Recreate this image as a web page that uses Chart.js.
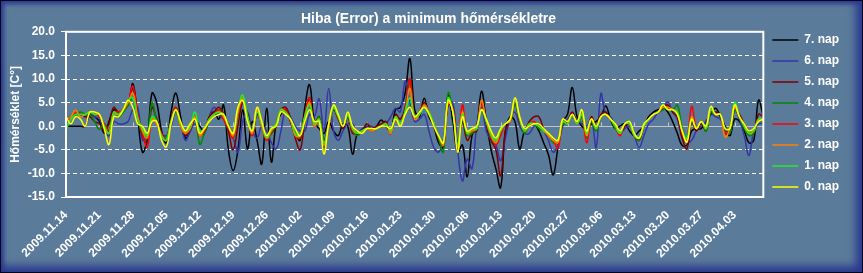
<!DOCTYPE html>
<html>
<head>
<meta charset="utf-8">
<script src="https://cdn.jsdelivr.net/npm/chart.js@4.4.0/dist/chart.umd.min.js"></script>
<style>
html, body { margin: 0; padding: 0; background: #000; }
#wrap {
  position: relative; width: 863px; height: 273px; box-sizing: border-box;
  background: #5b7b9b; border: 1px solid #05051a;
  box-shadow: inset 3px 3px 4px #2a3890, inset -8px -8px 8px -2px #2a3890;
}
#chart { position: absolute; left: -1px; top: -1px; }
</style>
</head>
<body>
<div id="wrap"><canvas id="chart" width="863" height="273"></canvas></div>
<script>
// tick labels, one per week
var tickLabels = ['2009.11.14', '2009.11.21', '2009.11.28', '2009.12.05', '2009.12.12', '2009.12.19', '2009.12.26',
  '2010.01.02', '2010.01.09', '2010.01.16', '2010.01.23', '2010.01.30', '2010.02.06', '2010.02.13',
  '2010.02.20', '2010.02.27', '2010.03.06', '2010.03.13', '2010.03.20', '2010.03.27', '2010.04.03'];

var seriesNames = ['7. nap', '6. nap', '5. nap', '4. nap', '3. nap', '2. nap', '1. nap', '0. nap'];

// daily error values, 2009.11.14 .. 2010.04.09
var nap7 = [0, 0, 0, 0, 0, 2.5, 2, 1, -1.5, 1,
  3.5, 2.5, 3.5, 4.5, 9, 2, -5.5, -3, 7, 5,
  -1, -3.5, 3, 7, 2, -2.5, -1, 1.5, 0, -1,
  2, 3, 1.5, 4.5, -5, -9.4, -5, 3.5, -4.8, 1,
  -3, -8, 3.8, -7.6, 0.5, 2.5, 3.5, 1, -1.5, -3,
  4, 8.8, 1, -0.5, -1.5, 1, -1, -2, 0.5, 0,
  -5.9, -1.5, -1, 0, -0.5, 0, 1.3, 0, -1, 3.5,
  4, 7, 14.3, 3.5, 2, 5.9, 2, 0, -3.5, -4.5,
  6.5, 1, -5.5, -4, -10.7, -2, 0, 7.4, 1, -5,
  -9, -13, -1, 2, 1, -4.8, -1, 0, 0.5, -1,
  -3.5, -6, -10.3, -4.5, 1, 2.5, 8.2, 2, 0, -0.5,
  0.5, 1, 2, 4.3, 1.5, -0.5, 0, 0.5, -1, -2,
  -1, 0, 2, 3, 3.5, 4, 3, 1, -1.5, -4.1,
  -4, -1, -0.5, -0.5, 1, 2.5, 3.8, 2, 0, -2,
  1.5, 1, -1, -3.5, -3, 5.5, 2];

var nap6 = [1, 2, 2.5, 2.5, 2, 2.5, 2, 1.5, -1, -2,
  1, 0.5, 0.5, 1, 3.5, 4, -3, -2, 1, 1.5,
  -1.5, -2, 0, 3.5, 1, -3, -1, 0.5, -1, -1.5,
  2, 4, 2.5, 1.5, -1, -2.5, -5.5, 1, 3, -1,
  -2.5, 0, -1, -3.5, -4.8, -1, 3.5, 2, 0, -1,
  -1, 2.5, 2, 5.8, -1, 8, -1, -3, -1, 0.5,
  0.5, -1.5, -0.5, 0, 0, -0.5, 0, 0.5, 2, 3.8,
  3, 9.5, 5, 1, 1.5, 2.5, -1, -4.5, -5.5, -3,
  4.5, 5, -5, -11.6, -7, -9, 0, 4, -1, -3,
  -4, -7.3, -2.5, 1.5, 3, 0, -1.5, -1.5, 0, 0.5,
  -1, -3, -5.5, -4, 0, 1.5, 2.5, 1.5, 0.5, 0,
  1.5, -4.5, 6.9, 2.5, 2, 0, -1.5, -0.5, 0, -2,
  -4.5, -2, 0.5, 1.5, 3, 3.5, 5.2, 3, 1.5, -2.5,
  -3.5, -3, -1, 0, 1, 2.5, 2, 1.5, -0.5, -1.5,
  3.5, 1.5, -2, -6.2, -1, 0.5, 0.5];

var nap5 = [1.5, 2, 2.5, 2.5, 2, 2, 1, 0.5, -1, 0.5,
  4, 3, 3.5, 5, 8, 2.5, -2, -3.5, 4, 1.5,
  -1.5, -3, 1.5, 4, 0.5, -2, -0.5, 1.5, -1.5, -1,
  2, 3, 4, 2.5, -1, -5, 0, 5, 2.5, -1,
  2.5, 0.5, -2.5, -1.5, 0, 3.5, 4, 1.5, -2.5, -5,
  1, 6, 0.5, 2, -3, 0.5, 3.5, 1.5, -0.5, 2,
  -1.5, -1.5, -1, 0.5, -0.5, 0, 0.5, 1, -1.5, 2.5,
  1.5, 4, 10, 2, 3, 5, 3, 0, -2.5, -4,
  4.5, 4, -4, 1, -3, -1.5, -1, 5, 0.5, -3,
  -5, -10.5, -1, 1.5, 5, 1, -1, 1, 2, 2,
  -0.5, -2, -3, -3.5, 1, 1, 3, 1, 2, -2,
  2, 0, 2.5, 3, 1.5, 0.5, -1.5, 0, 0.5, -2,
  -3, 0, 1.5, 2.5, 3, 4, 4.5, 3, 2, -2.5,
  -4.8, 1, -1, 0.5, -1, 3, 3, 2.5, -1.5, -1,
  3.5, 2.5, 0.5, -1, -1.5, 2.5, 2];

var nap4 = [1.5, 2, 2.5, 3, 2.5, 2.5, 1, -0.7, 0.5, -1,
  3, 2, 3, 4.5, 6, 1.5, -1.5, -2, 5, 1,
  -2, -2.5, 1, 3, 0, -1.5, 0, 2, -3.8, -1.5,
  1, 2.5, 3.5, 2, 0.5, -2.5, 2.5, 6, 2.5, -1.5,
  3, 0, -2.5, -1.5, 0.5, 3.5, 3, 1.5, -2, -2.5,
  2, 4.5, 0, 2, -4.5, 0.5, 3.5, 2, 0, 2,
  -1, -2, -1, -0.5, -1, -0.5, 0, 0.5, -1, 2,
  0.5, 3.5, 9, 2, 2.5, 4.5, 3, 0.5, -2.5, -5.5,
  7, 3, -4.5, 2, -2, -1.5, -0.5, 3.5, 1, -2.5,
  -3.5, -1.5, 0.5, 1, 4.5, 1.5, -1.5, 0.5, 0.5, -0.5,
  -1, -2, -3.5, -3, 0.5, 0.5, 2.5, 0.5, 2, -2.5,
  1, -1, 2, 2.5, 1.5, -0.5, -1.5, 0.5, 0.5, -2,
  -3, 0, 1.5, 2.5, 3, 3.5, 4, 3.5, 4.5, -0.5,
  -2.5, 1.5, -0.5, 1, -1, 3, 2.5, 2.5, -1, -1.5,
  3.5, 2, -0.5, -2, -1.5, 1.5, 0.5];

var nap3 = [1, 2, 3, 2.5, 2.5, 3, 2.5, 2, 0.5, -1,
  3, 3, 3.5, 5, 8.5, 2.5, -1.5, -4.4, 1.5, 0.5,
  -1.5, -3, 1, 4, 0, -1.5, 0, 2, -2, -1,
  1.5, 2.5, 3.5, 1.5, -0.5, -2.5, 2.5, 5.5, 2, -2,
  3, 0, -3, -1, 0.5, 3.5, 3.5, 1, -2, -2.5,
  2.5, 6, 0, 1.5, -4, 0, 4, 2, 0, 2.5,
  -1, -1.5, -1, -0.5, -1, -0.5, 0, 0.5, -1.6, 2,
  0.5, 3, 10, 1.5, 2.5, 4.5, 3, 0.5, -2, -4,
  5, 3.5, -4.5, 4.5, -1.5, -1, -0.5, 5, 1, -2,
  -4, -2, 0.5, 1, 5.5, 1.5, -1, 0.5, 1, 0,
  -1, -2, -3, -4.7, 1, 0.5, 2.5, 0.5, 2.5, -3.5,
  1.5, -0.5, 2, 2.5, 1.5, 0, -2, 0.5, 0.5, -2,
  -2.5, 0, 1.5, 2.5, 3, 4, 4, 3.5, 3, -1.5,
  -3, 4.2, -0.5, 1, -0.5, 3.5, 2.5, 2.5, -1.5, -0.5,
  4, 2, 0, -1.5, -1, 1.5, 1];

var nap2 = [1.5, 2, 3.4, 2, 2.5, 3, 2.5, 2.5, 0, -1.5,
  2.5, 2.5, 3.5, 5, 7, 2, -1, -2.5, 1.5, 0.5,
  -2, -3, 1, 3.5, 0, -1.5, -0.5, 2, -2, -0.5,
  1.5, 2.5, 3, 2, 0, -2, 3, 6, 2, -1.5,
  3.5, 0, -2.5, -1, 0.5, 3.5, 2.5, 1.5, -2, -2,
  2, 5, 0, 1.5, -4, 0, 4, 2, 0, 2.5,
  -0.5, -1.5, -1, -0.5, -1, -0.5, 0, 0.5, -1.5, 2,
  0.5, 3, 8, 1.5, 2.5, 4.5, 3, 0.5, -2, -4,
  5, 3.5, -4.5, 3, -1.5, -1, -0.5, 5.5, 1, -2,
  -3.5, -1, 0.5, 1, 5.5, 1.5, -1, 0.5, 0.5, 0,
  -1, -2, -3, -3.5, 1, 0.5, 2.5, 0.5, 2.5, -2,
  1.5, -0.5, 2, 2.5, 1.5, 0, -1.5, 0.5, 0.5, -2,
  -2.5, 0, 1.5, 2.5, 3, 4, 4, 3.5, 3, -1,
  -3, 2, -0.5, 1, -0.5, 3.5, 2.5, 2.5, -2.3, -0.5,
  4, 2, 0, -1.5, -1, 1.5, 1];

var nap1 = [-0.8, 1.5, 2.5, 2.5, 2.5, 3, 2.5, 2.5, 0, -1.5,
  3, 2.5, 3.5, 5.5, 6, 1.5, -0.5, -2, 2, 1,
  -2, -3, 1, 3.5, 0.5, -1, 0, 3, -1, -0.5,
  1.5, 2.5, 3, 2.5, 0, -1.5, 3.5, 6.6, 2, -1,
  3, 0.5, -2.5, -0.5, 0.5, 3.5, 3, 1.5, -1.5, -2,
  2, 4.5, 0.5, 1.5, -3.5, 0.5, 4, 2, 0, 2.5,
  -0.5, -1.5, -1, -0.5, -0.5, -0.5, 0, 0.5, -1, 2,
  0.5, 3, 6, 2, 2.5, 4, 3, 0.5, -2, -3.5,
  6, 3, -4, 2.5, -1.5, -0.5, -0.5, 3.5, 1, -1.5,
  -3, -1, 0.5, 1.5, 5.5, 1.5, -1, 0.5, 0.5, 0,
  -1, -1.5, -2.5, -3, 1, 0.5, 2.5, 0.5, 2.5, -1.5,
  1.5, -0.5, 2, 2.5, 1.5, 0, -1.5, 0.5, 0.5, -2,
  -2.5, 0, 1.5, 2.5, 3, 4.5, 3.5, 3.5, 3, -1,
  -2.5, 1.5, -0.5, 1, -0.5, 3.5, 2.5, 2.5, -0.5, -0.5,
  5, 2, 0, -1.5, -1, 1.5, 1.5];

var nap0 = [2, 0.5, 2, 1.5, 0, 3, 3, 2.5, -0.5, -3.9,
  2, 2, 3.5, 5.5, 4, 0.5, 0, -1.5, 1, 1,
  -3, -4.4, 0.5, 3.5, 1, -1, 0.5, 1.5, -1.5, -0.5,
  1, 2, 2.5, 2.5, 0, -1.5, 4, 5.5, 1, -1,
  4, 1, -2, -0.5, 0, 3, 2.5, 1.5, -0.5, -2,
  1, 3.5, 1, 1, -5.9, 0.5, 4.5, 2.5, 0, 3,
  0, -1, -1.5, -0.5, -0.5, -0.5, 0, 0, -0.5, 1.5,
  0, 2.5, 4, 2, 3, 4, 2.5, 0, -2, -3.5,
  5.5, 3, -5.5, 2, -1, -0.5, 0, 3.5, 1.5, -1,
  -2.5, -0.5, 0.5, 1.5, 6, 2, -0.5, 0, 0.5, 0.5,
  -0.5, -1.5, -2.5, -3, 1.5, 1, 2.5, 1, 3.5, -1,
  1.5, 0, 2, 2.5, 1.5, 0.5, -1, 0.5, 1, -1.5,
  -2.5, 0.5, 1.5, 2.5, 3, 4.5, 3.5, 3.5, 2.5, -1,
  -3.4, 1.5, -0.5, 1, 0, 4.2, 2.5, 2.5, -0.5, -0.5,
  4.5, 2, 0.5, -1, -0.5, 1, 1.5];

var seriesData = [nap7, nap6, nap5, nap4, nap3, nap2, nap1, nap0];
var seriesColors = ['#000000', '#3535a8', '#7a0000', '#008800', '#ff0000', '#ff8000', '#22ee22', '#ffff00'];

// one category per day
var days = [];
var d0 = new Date(2009, 10, 14);
for (var i = 0; i < nap0.length; i++) {
  var d = new Date(d0.getFullYear(), d0.getMonth(), d0.getDate() + i);
  days.push(d.getFullYear() + '.' + String(d.getMonth() + 1).padStart(2, '0') + '.' + String(d.getDate()).padStart(2, '0'));
}

var font = 'Liberation Sans, Arial, sans-serif';

// zero line with week ticks, and the white plot frame
var plotDecor = {
  id: 'plotDecor',
  beforeDatasetsDraw: function (chart) {
    var ctx = chart.ctx, a = chart.chartArea, x = chart.scales.x, y = chart.scales.y;
    var y0 = Math.round(y.getPixelForValue(0)) + 0.5;
    ctx.save();
    ctx.strokeStyle = '#c4c4c4';
    ctx.lineWidth = 1;
    ctx.beginPath();
    ctx.moveTo(a.left, y0);
    ctx.lineTo(a.right, y0);
    for (var i = 0; i < days.length; i += 7) {
      var px = Math.round(x.getPixelForValue(i)) + 0.5;
      ctx.moveTo(px, y0 - 4);
      ctx.lineTo(px, y0);
    }
    ctx.stroke();
    ctx.restore();
  },
  afterDatasetsDraw: function (chart) {
    var ctx = chart.ctx, a = chart.chartArea;
    ctx.save();
    ctx.strokeStyle = '#ffffff';
    ctx.lineWidth = 2;
    ctx.strokeRect(a.left, a.top, a.right - a.left, a.bottom - a.top);
    ctx.restore();
  }
};

var datasets = seriesNames.map(function (name, k) {
  return {
    label: name,
    data: seriesData[k],
    borderColor: seriesColors[k],
    backgroundColor: seriesColors[k],
    borderWidth: 1.5,
    pointRadius: 0,
    tension: 0.4,
    fill: false,
    order: seriesNames.length - k
  };
});

new Chart(document.getElementById('chart'), {
  type: 'line',
  data: { labels: days, datasets: datasets },
  plugins: [plotDecor],
  options: {
    responsive: false,
    animation: false,
    layout: { padding: { left: 8, top: 4, right: 14, bottom: 0 } },
    plugins: {
      title: {
        display: true,
        text: 'Hiba (Error) a minimum hőmérsékletre',
        color: '#ffffff',
        font: { family: font, size: 14, weight: 'bold' },
        padding: { top: 7, bottom: 4 }
      },
      legend: {
        position: 'right',
        align: 'start',
        title: {
          display: true,
          text: ' ',
          font: { family: font, size: 12 },
          padding: { top: 3, bottom: 3.5 }
        },
        labels: {
          color: '#ffffff',
          font: { family: font, size: 12, weight: 'bold' },
          usePointStyle: true,
          pointStyle: 'line',
          pointStyleWidth: 26,
          padding: 9,
          sort: function (a, b) { return a.datasetIndex - b.datasetIndex; }
        }
      },
      tooltip: { enabled: false }
    },
    scales: {
      x: {
        type: 'category',
        grid: { display: false },
        border: { display: false },
        ticks: {
          autoSkip: false,
          maxRotation: 45,
          minRotation: 45,
          color: '#ffffff',
          font: { family: font, size: 12, weight: 'bold' },
          callback: function (v, i) { return i % 7 === 0 ? tickLabels[i / 7] : null; }
        },
        afterFit: function (scale) { scale.height = 76; }
      },
      y: {
        min: -15,
        max: 20,
        border: { display: false, dash: [4, 3] },
        grid: {
          color: function (c) { return c.tick && c.tick.value === 0 ? 'rgba(0,0,0,0)' : '#ffffff'; },
          tickColor: '#ffffff',
          tickLength: 5,
          tickBorderDash: []
        },
        ticks: {
          stepSize: 5,
          padding: 6,
          color: '#ffffff',
          font: { family: font, size: 12, weight: 'bold' },
          callback: function (v) { return v.toFixed(1); }
        },
        title: {
          display: true,
          text: 'Hőmérséklet [C°]',
          color: '#ffffff',
          font: { family: font, size: 12, weight: 'bold' },
          padding: 0
        },
        afterFit: function (scale) { scale.width = 58; }
      }
    }
  }
});
</script>
</body>
</html>
